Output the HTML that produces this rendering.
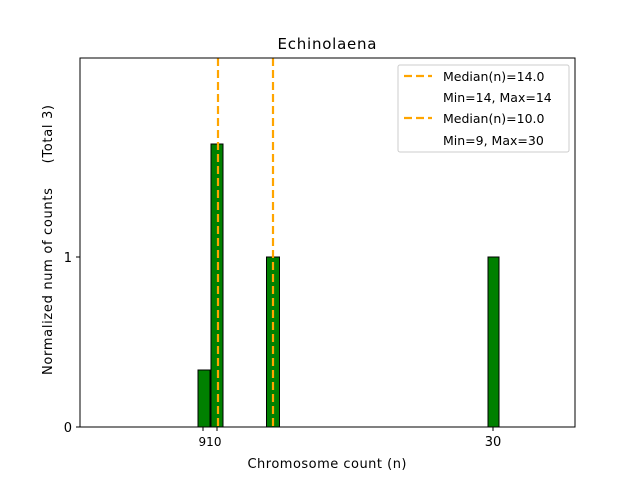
<!DOCTYPE html>
<html><head><style>body{margin:0;background:#fff}svg{display:block}</style></head><body>
<svg width="640" height="480" xmlns="http://www.w3.org/2000/svg" font-family="DejaVu Sans, Liberation Sans, sans-serif" font-size="12">
<rect width="640" height="480" fill="#fff"/>
<g stroke="#000" stroke-width="1" fill="#008000">
<rect x="198" y="370" width="12" height="57"/>
<rect x="211" y="144" width="12" height="283"/>
<rect x="266.5" y="257" width="13" height="170"/>
<rect x="488" y="257" width="11" height="170"/>
</g>
<line x1="80" y1="427" x2="320" y2="427" stroke="#000"/>
<g stroke="#ffa500" stroke-width="2.2" stroke-dasharray="8,4">
<line x1="218" y1="58" x2="218" y2="427"/>
<line x1="273" y1="58" x2="273" y2="427"/>
</g>
<rect x="80" y="58" width="495" height="369" fill="none" stroke="#000"/>
<g stroke="#000"><line x1="76" y1="427" x2="80" y2="427"/><line x1="76" y1="257" x2="80" y2="257"/>
<line x1="203" y1="427" x2="203" y2="431"/><line x1="217" y1="427" x2="217" y2="431"/><line x1="493" y1="427" x2="493" y2="431"/></g>
<g text-anchor="end" font-size="13"><text x="72" y="432">0</text><text x="72" y="262">1</text></g>
<g text-anchor="middle" font-size="13"><text x="210" y="446" font-size="12">910</text><text x="493" y="446">30</text>
<text x="327" y="468" textLength="159">Chromosome count (n)</text>
<text x="327" y="49" font-size="15" textLength="99">Echinolaena</text></g>
<text transform="translate(52,240) rotate(-90)" text-anchor="middle" font-size="13" textLength="270" xml:space="preserve">Normalized num of counts     (Total 3)</text>
<rect x="398" y="65" width="171" height="87" rx="2" fill="#fff" stroke="#ccc"/>
<g stroke="#ffa500" stroke-width="2.2" stroke-dasharray="8,4"><line x1="404" y1="76" x2="432" y2="76"/><line x1="404" y1="118" x2="432" y2="118"/></g>
<g font-size="12.5"><text x="443" y="81">Median(n)=14.0</text><text x="443" y="102">Min=14, Max=14</text>
<text x="443" y="123">Median(n)=10.0</text><text x="443" y="145">Min=9, Max=30</text></g>
</svg>
</body></html>
